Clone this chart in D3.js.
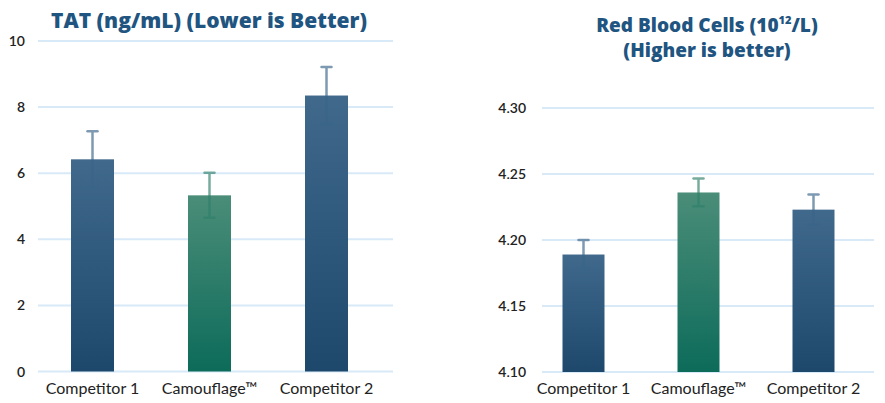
<!DOCTYPE html>
<html>
<head>
<meta charset="utf-8">
<script src="https://cdn.jsdelivr.net/npm/d3@7"></script>
<style>
  body { margin: 0; background: #fff; }
  svg { display: block; }
</style>
</head>
<body>
<svg id="chart" width="885" height="403"></svg>
<script>
// data
const categories = ["Competitor 1", "Camouflage\u2122", "Competitor 2"];
const tatValues = [6.42, 5.33, 8.35];
const tatErrors = [0.85, 0.68, 0.86];
const tatTicks = [0, 2, 4, 6, 8, 10];
const rbcValues = [4.189, 4.236, 4.223];
const rbcErrors = [0.011, 0.0105, 0.0115];
const rbcTicks = [4.10, 4.15, 4.20, 4.25, 4.30];
const barKinds = ["blue", "green", "blue"];

const svg = d3.select("#chart");

const defs = svg.append("defs");
function grad(id, top, bottom) {
  const g = defs.append("linearGradient").attr("id", id)
    .attr("x1", 0).attr("y1", 0).attr("x2", 0).attr("y2", 1);
  g.append("stop").attr("offset", "0%").attr("stop-color", top);
  g.append("stop").attr("offset", "100%").attr("stop-color", bottom);
}
grad("g-blue", "#40698c", "#1d486c");
grad("g-green", "#4a8d78", "#0d6b5a");
const errColor = { blue: "#3a6489", green: "#2f806a" };

function drawPanel(opts) {
  const g = svg.append("g");

  const x = d3.scaleBand()
    .domain(categories)
    .range(opts.xRange)
    .paddingInner(opts.pad)
    .paddingOuter(opts.pad / 2);

  const y = d3.scaleLinear()
    .domain(opts.domain)
    .range(opts.yRange);

  // gridlines
  g.selectAll(".grid")
    .data(opts.ticks)
    .enter()
    .append("line")
    .attr("x1", opts.gridX[0])
    .attr("x2", opts.gridX[1])
    .attr("y1", d => y(d))
    .attr("y2", d => y(d))
    .attr("stroke", "#d8eaf8")
    .attr("stroke-width", 2);

  // y tick labels
  g.selectAll(".ytick")
    .data(opts.ticks)
    .enter()
    .append("text")
    .attr("x", opts.tickX)
    .attr("y", d => y(d) + 5)
    .attr("text-anchor", "end")
    .attr("font-family", "Lato, sans-serif")
    .attr("font-size", 14)
    .attr("font-weight", 600)
    .attr("fill", "#222")
    .text(d => opts.fmt(d));

  const bw = opts.barWidth;
  const cx = d => x(d) + x.bandwidth() / 2;

  // bars
  g.selectAll(".bar")
    .data(categories)
    .enter()
    .append("rect")
    .attr("x", d => cx(d) - bw / 2)
    .attr("y", (d, i) => y(opts.values[i]))
    .attr("width", bw)
    .attr("height", (d, i) => y(opts.domain[0]) - y(opts.values[i]))
    .attr("fill", (d, i) => "url(#g-" + barKinds[i] + ")");

  // error bars
  categories.forEach((c, i) => {
    const hi = y(opts.values[i] + opts.errors[i]);
    const lo = y(opts.values[i] - opts.errors[i]);
    const col = errColor[barKinds[i]];
    const e = g.append("g").attr("stroke", col).attr("opacity", 0.65);
    e.append("line").attr("x1", cx(c)).attr("x2", cx(c))
      .attr("y1", hi).attr("y2", lo).attr("stroke-width", 2.5);
    e.append("line").attr("x1", cx(c) - 5).attr("x2", cx(c) + 5)
      .attr("y1", hi).attr("y2", hi).attr("stroke-width", 2.5)
      .attr("stroke-linecap", "round");
    e.append("line").attr("x1", cx(c) - 5).attr("x2", cx(c) + 5)
      .attr("y1", lo).attr("y2", lo).attr("stroke-width", 2.5)
      .attr("stroke-linecap", "round");
  });

  // category labels
  g.selectAll(".xlab")
    .data(categories)
    .enter()
    .append("text")
    .attr("x", d => cx(d))
    .attr("y", opts.labelY)
    .attr("text-anchor", "middle")
    .attr("font-family", "Lato, sans-serif")
    .attr("font-size", 16)
    .attr("fill", "#222")
    .text(d => d);

  // title, one text element per line
  opts.title.forEach((line, k) => {
    const t = g.append("text")
      .attr("x", opts.titleX)
      .attr("y", opts.titleY + k * 25)
      .attr("text-anchor", "middle")
      .attr("font-family", "'Open Sans', sans-serif")
      .attr("font-weight", 800)
      .attr("font-size", opts.titleSize)
      .attr("fill", "#1f5580");
    line.forEach(part => {
      const s = t.append("tspan").text(part.t);
      if (part.sup) s.attr("font-size", 11).attr("dy", -8);
      if (part.down) s.attr("dy", 8);
    });
  });
}

drawPanel({
  values: tatValues, errors: tatErrors, ticks: tatTicks,
  domain: [0, 10], yRange: [371.5, 41],
  xRange: [34, 385], pad: 0.64, barWidth: 43,
  gridX: [38, 393], tickX: 25, labelY: 394,
  fmt: d => d,
  titleX: 209, titleY: 28, titleSize: 21,
  title: [[{ t: "TAT (ng/mL) (Lower is Better)" }]]
});

drawPanel({
  values: rbcValues, errors: rbcErrors, ticks: rbcTicks,
  domain: [4.10, 4.30], yRange: [372, 108],
  xRange: [526, 871], pad: 0.64, barWidth: 42,
  gridX: [542, 874], tickX: 526, labelY: 394,
  fmt: d => d3.format(".2f")(d),
  titleX: 707, titleY: 32, titleSize: 19,
  title: [
    [{ t: "Red Blood Cells (10" }, { t: "12", sup: true }, { t: "/L)", down: true }],
    [{ t: "(Higher is better)" }]
  ]
});
</script>
</body>
</html>
